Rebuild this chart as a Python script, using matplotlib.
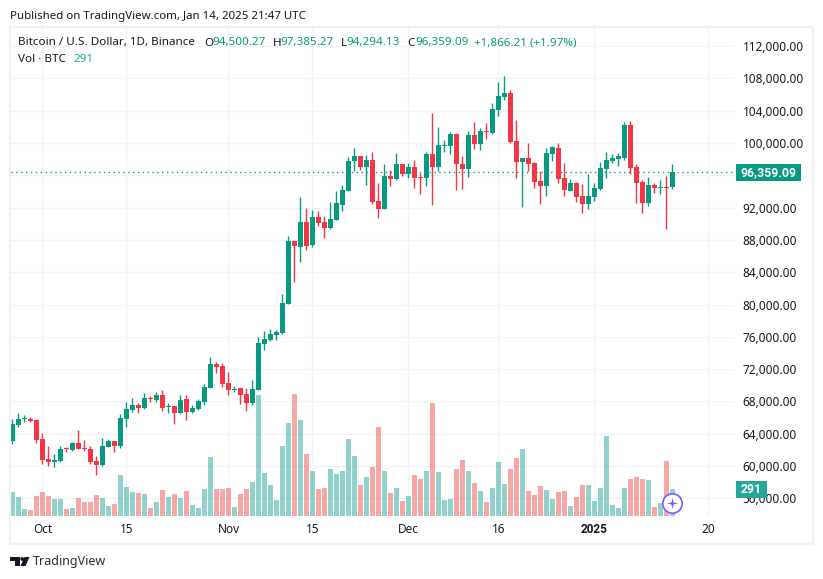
import numpy as np
import matplotlib
matplotlib.use("Agg")
import matplotlib.pyplot as plt
from matplotlib.patches import Rectangle, Polygon, Circle
from matplotlib.path import Path

# daily candles, first one is Sep 26 2024, last one Jan 14 2025
opens = [63158, 65087, 65866, 65825, 65702, 63363, 60901, 60532, 60655, 62214,
         62009, 62871, 62255, 62132, 60655, 60163, 62378, 63117, 62501, 65825,
         66933, 67548, 67179, 68451, 68164, 68779, 67302, 67425, 66563, 68287,
         66686, 67056, 67917, 69641, 72595, 72349, 70256, 69477, 69641, 68902,
         67794, 69394, 75057, 75669, 76289, 76537, 80010, 87823, 87079, 90179,
         87327, 90799, 90179, 89435, 90427, 92364, 94091, 97795, 98412, 97054,
         97918, 92857, 91869, 95943, 95573, 97425, 96190, 97054, 95820, 95696,
         98659, 97054, 99647, 99647, 101128, 97425, 96808, 101005, 99894, 101498,
         101252, 104091, 105696, 106190, 100264, 97671, 98165, 97548, 95326, 94709,
         98659, 99400, 95696, 94091, 95079, 93474, 92487, 93351, 94338, 96808,
         97795, 98042, 98165, 102239, 97054, 95203, 92610, 94832, 94462, 94585,
         94500.27]
highs = [65825, 66563, 66317, 66071, 65702, 64102, 62501, 61517, 62501, 62378,
         62994, 64471, 63240, 62501, 61271, 63486, 63363, 63117, 66441, 67917,
         68410, 67794, 69025, 68656, 69148, 69395, 67794, 67425, 68779, 68779,
         67548, 68287, 70133, 73457, 72841, 72718, 71610, 69887, 69641, 69641,
         70625, 76041, 76780, 77033, 76909, 81250, 88443, 87823, 93280, 91916,
         91668, 91544, 90923, 92660, 94024, 94832, 98289, 99400, 98412, 98536,
         98906, 95079, 97425, 96684, 98783, 97425, 97548, 97918, 96314, 98906,
         103721, 101992, 100388, 101375, 101252, 98412, 101498, 102609, 101869, 102486,
         104955, 107548, 108288, 106560, 102857, 98165, 100017, 97671, 96560, 99400,
         99647, 100017, 97548, 95573, 95203, 94956, 96190, 95079, 97671, 98906,
         98659, 98783, 102610, 102733, 97425, 95449, 95820, 95079, 95449, 95943,
         97385.27]
lows = [62748, 64840, 65456, 65456, 62871, 60286, 60040, 59916, 60532, 61763,
        61886, 62132, 61886, 60286, 58932, 60040, 62378, 61763, 62255, 64840,
        66686, 66563, 67056, 67917, 67917, 66810, 66563, 65209, 66440, 65702,
        66563, 66933, 67548, 69641, 71487, 69764, 68779, 69148, 67671, 66810,
        67548, 69394, 74318, 75545, 75669, 76413, 80010, 82738, 85219, 86707,
        87079, 89683, 88195, 89311, 90427, 91622, 94091, 96560, 96684, 94832,
        92487, 90759, 91869, 94709, 95449, 95943, 95696, 94462, 93721, 94709,
        92363, 96561, 98906, 98659, 94215, 94338, 95820, 99277, 99153, 100511,
        101128, 103350, 105326, 100017, 95696, 92116, 96561, 94462, 92487, 93474,
        97795, 95079, 93474, 94091, 92734, 91376, 91869, 92857, 94215, 95696,
        97548, 97178, 97918, 96190, 92610, 91376, 92240, 93845, 93721, 89400,
        94294.13]
closes = [65209, 65825, 65948, 65579, 63240, 60778, 60532, 60778, 62132, 62091,
          62871, 62132, 62132, 60532, 60163, 62501, 63117, 62501, 65948, 67056,
          67548, 67179, 68410, 68328, 68779, 67179, 67425, 66563, 68164, 66686,
          67179, 68040, 69764, 72595, 72226, 70133, 69394, 69600, 68779, 67794,
          69518, 75180, 75795, 76413, 76661, 80134, 87823, 87203, 90179, 87203,
          90799, 90055, 89435, 90551, 92536, 94215, 97795, 98412, 97054, 97918,
          92734, 91869, 95943, 95573, 97425, 96190, 97054, 95696, 95696, 98659,
          97054, 99770, 99770, 101128, 97425, 96808, 101005, 99894, 101498, 101375,
          104214, 105819, 106190, 100141, 97671, 98165, 97425, 95203, 94709, 98783,
          99523, 95573, 94215, 95079, 93351, 92487, 93474, 94462, 96931, 97918,
          98165, 98412, 102239, 96931, 95079, 92610, 94832, 94462, 94585, 94462,
          96359.09]
volumes = [259, 205, 75, 65, 216, 259, 216, 183, 183, 75,
           86, 194, 151, 151, 226, 194, 108, 129, 442, 313,
           259, 248, 237, 86, 151, 280, 205, 237, 194, 269,
           119, 86, 291, 636, 291, 291, 302, 97, 237, 291,
           366, 1304, 463, 334, 172, 755, 1002, 1315, 1035, 668,
           485, 291, 302, 507, 453, 485, 830, 647, 334, 420,
           528, 959, 485, 248, 302, 162, 216, 442, 399, 485,
           1218, 474, 172, 183, 507, 604, 485, 356, 269, 151,
           302, 582, 345, 507, 625, 722, 269, 226, 323, 280,
           183, 259, 269, 108, 205, 334, 334, 162, 302, 862,
           119, 86, 302, 399, 420, 399, 388, 97, 140, 593,
           291]

price_ticks = list(range(56000, 116000, 4000))
date_tick_pos = [5, 19, 36, 50, 66, 81, 97, 116]
date_tick_labels = ["Oct", "15", "Nov", "15", "Dec", "16", "2025", "20"]

GREEN = "#089981"
RED = "#F23645"
VOL_GREEN = "#26A69A"
VOL_RED = "#EF5350"
GRID = "#F2F3F6"
TEXT = "#131722"
W, H = 823, 579
FONT = "Noto Sans"
BOLD_FONT = "Roboto"

plt.rcParams["font.family"] = FONT
plt.rcParams["font.size"] = 8.5

opens = np.array(opens)
highs = np.array(highs)
lows = np.array(lows)
closes = np.array(closes)
idx = np.arange(len(closes))
up = closes >= opens
colors = [GREEN if u else RED for u in up]
vol_colors = [VOL_GREEN if u else VOL_RED for u in up]

fig = plt.figure(figsize=(W / 100, H / 100), dpi=100)
left, right, top, bottom = 11, 735, 28, 516
ax = fig.add_axes([left / W, 1 - bottom / H, (right - left) / W, (bottom - top) / H])
ax.set_xlim(-0.25, 120.42)
ax.set_ylim(53830, 114220)
for s in ax.spines.values():
    s.set_visible(False)

# candles
ax.vlines(idx, lows, highs, colors=colors, linewidth=1.0, zorder=3)
ax.bar(idx, closes - opens, bottom=opens, width=0.83, color=colors, linewidth=0, zorder=4)
ax.axhline(closes[-1], color=GREEN, linewidth=1.0, linestyle=(0, (1, 2.5)), zorder=2)

# volume pane shares the x axis, own scale
ax_vol = ax.twinx()
ax_vol.set_ylim(0, 5260)
ax_vol.axis("off")
ax_vol.bar(idx, volumes, width=0.83, color=vol_colors, alpha=0.5, linewidth=0)

# twinx moves the price ticks, so set them up after it
ax.yaxis.tick_right()
ax.set_yticks(price_ticks)
# 96,000 sits fully under the last price tag
ax.set_yticklabels(["" if p == 96000 else f"{p:,.2f}" for p in price_ticks])
for label in ax.get_yticklabels():
    label.set_verticalalignment("center_baseline")
ax.set_xticks(date_tick_pos)
ax.set_xticklabels(date_tick_labels)
year_label = ax.get_xticklabels()[6]
year_label.set_fontfamily(BOLD_FONT)
year_label.set_fontweight("bold")
ax.tick_params(axis="both", length=0, labelcolor=TEXT)
ax.tick_params(axis="y", pad=5.5)
ax.tick_params(axis="x", pad=4.8)
ax.grid(True, color=GRID, linewidth=1.0)
ax.set_axisbelow(True)

# purple marker on the last bar
star = Path([(0, 1), (0.18, 0.18), (1, 0), (0.18, -0.18), (0, -1), (-0.18, -0.18),
             (-1, 0), (-0.18, 0.18), (0, 1)], closed=True)
ax_vol.plot(idx[-1], 137, marker="o", markersize=14, markerfacecolor="white",
            markeredgecolor="#7E57FF", markeredgewidth=1.2, zorder=6)
ax_vol.plot(idx[-1], 137, marker=star, markersize=8, color="#7E57FF",
            markeredgewidth=0, zorder=7)

# pixel overlay for frame, tags, legend and logo
ov = fig.add_axes([0, 0, 1, 1], zorder=5)
ov.set_xlim(0, W)
ov.set_ylim(H, 0)
ov.axis("off")
ov.patch.set_alpha(0)

ov.add_patch(Rectangle((10, 27), 803, 517, fill=False, edgecolor="#F0F1F6", linewidth=1.6))

ov.add_patch(Rectangle((736, 164), 65, 17, facecolor=GREEN, edgecolor="none"))
ov.text(768.5, 172.5, "96,359.09", color="white", ha="center", va="center",
        fontfamily=BOLD_FONT, fontweight="bold", fontsize=8.8)
ov.add_patch(Rectangle((736, 481), 31, 17, facecolor="#26A69A", edgecolor="none"))
ov.text(751.5, 489.5, "291", color="white", ha="center", va="center",
        fontfamily=BOLD_FONT, fontweight="bold", fontsize=8.8)

ov.text(10, 16, "Published on TradingView.com, Jan 14, 2025 21:47 UTC", color=TEXT,
        va="center", fontsize=8.25)
ov.text(18, 43, "Bitcoin / U.S. Dollar, 1D, Binance", color=TEXT, va="center", fontsize=8.4)
legend = [(204, "O", TEXT), (212, "94,500.27", GREEN), (272.5, "H", TEXT), (280.5, "97,385.27", GREEN),
          (340.5, "L", TEXT), (346, "94,294.13", GREEN), (407, "C", TEXT), (415, "96,359.09", GREEN),
          (474, "+1,866.21 (+1.97%)", GREEN)]
for x, label, c in legend:
    ov.text(x, 43, label, color=c, va="center", fontsize=8.4)
ov.text(18, 59, "Vol \u00b7 BTC", color=TEXT, va="center", fontsize=8.4)
ov.text(74, 59, "291", color="#26A69A", va="center", fontsize=8.4)

# logo
LOGO = "#131722"
ov.add_patch(Polygon([(10, 557), (20, 557), (20, 566), (15.5, 566), (15.5, 561), (10, 561)],
                     facecolor=LOGO, edgecolor="none"))
ov.add_patch(Circle((22.2, 559), 1.9, facecolor=LOGO, edgecolor="none"))
ov.add_patch(Polygon([(24.5, 557), (29.5, 557), (25.5, 566), (20.5, 566)],
                     facecolor=LOGO, edgecolor="none"))
ov.text(33, 561.5, "TradingView", color="#2A2E39", va="center", fontsize=9)

fig.savefig("out.png", dpi=100)
